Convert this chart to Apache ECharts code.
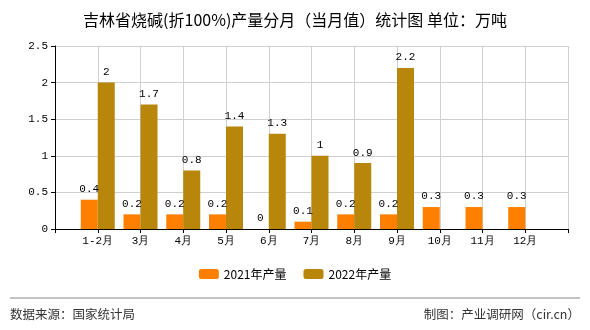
<!DOCTYPE html>
<html><head><meta charset="utf-8">
<script src="https://cdn.jsdelivr.net/npm/echarts@6/dist/echarts.min.js"></script>
<style>html,body{margin:0;padding:0;background:#fff}#c{width:590px;height:330px}</style>
</head><body><div id="c"></div>
<script>
const categories = ['', '1-2月', '3月', '4月', '5月', '6月', '7月', '8月', '9月', '10月', '11月', '12月', ''];
const s2021 = [null, 0.4, 0.2, 0.2, 0.2, 0, 0.1, 0.2, 0.2, 0.3, 0.3, 0.3, null];
const s2022 = [null, 2, 1.7, 0.8, 1.4, 1.3, 1, 0.9, 2.2, null, null, null, null];
const names = ['2021年产量', '2022年产量'];
const yTicks = [0, 0.5, 1, 1.5, 2, 2.5];

const mono = 'Liberation Mono, DejaVu Sans Mono, monospace';
const sans = 'Noto Sans CJK SC, sans-serif';
const chart = echarts.init(document.getElementById('c'), null, {renderer: 'canvas'});
const lbl = {show: true, position: 'top', color: '#000', fontFamily: mono, fontSize: 11, distance: 5,
  formatter: p => (p.value === null || p.value === undefined) ? '' : String(p.value)};
chart.setOption({
  animation: false,
  title: {text: '吉林省烧碱(折100%)产量分月（当月值）统计图 单位：万吨', left: 'center', top: 7,
    textStyle: {fontSize: 16, fontWeight: 'normal', color: '#000', fontFamily: sans}},
  legend: {bottom: 45, itemWidth: 20, itemHeight: 10, itemGap: 17, data: names,
    textStyle: {fontSize: 12, color: '#000', fontFamily: sans}},
  grid: {left: 55, right: 22, top: 46, bottom: 101},
  xAxis: {type: 'category', data: categories, boundaryGap: false,
    axisLine: {lineStyle: {color: '#000'}},
    axisTick: {show: true, length: 4, lineStyle: {color: '#000'}},
    axisLabel: {color: '#000', fontFamily: mono, fontSize: 11, margin: 7, interval: 0},
    splitLine: {show: true, lineStyle: {color: '#d0d0d0'}}},
  yAxis: {type: 'value', min: yTicks[0], max: yTicks[yTicks.length - 1], interval: 0.5,
    axisLine: {show: true, lineStyle: {color: '#000'}},
    axisTick: {show: true, length: 4, lineStyle: {color: '#000'}},
    axisLabel: {color: '#000', fontFamily: mono, fontSize: 11, margin: 7},
    splitLine: {show: true, lineStyle: {color: '#d0d0d0'}}},
  series: [
    {name: names[0], type: 'bar', data: s2021, barWidth: 17, barGap: '0%', itemStyle: {color: '#FF8000'}, label: lbl},
    {name: names[1], type: 'bar', data: s2022, barWidth: 17, barGap: '0%', itemStyle: {color: '#B8860B'}, label: lbl}
  ],
  graphic: [
    {type: 'line', shape: {x1: 10, y1: 298, x2: 580, y2: 298}, style: {stroke: '#888', lineWidth: 1}},
    {type: 'text', left: 10, top: 308, style: {text: '数据来源：国家统计局', fontSize: 12.5, fill: '#333', fontFamily: sans}},
    {type: 'text', right: 10, top: 308, style: {text: '制图：产业调研网（cir.cn）', fontSize: 12.5, fill: '#333', fontFamily: sans}}
  ]
});
</script></body></html>
